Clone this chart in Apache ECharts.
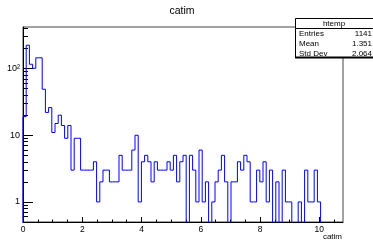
<!DOCTYPE html>
<html>
<head>
<meta charset="utf-8">
<script src="https://cdn.jsdelivr.net/npm/echarts@6/dist/echarts.min.js"></script>
<style>
  html, body { margin: 0; padding: 0; background: #fff; }
  #chart { width: 373px; height: 240px; }
</style>
</head>
<body>
<div id="chart"></div>
<script>
// histogram "catim" - 100 bins from 0 to 10.8, log y scale
const histName = 'htemp'
const xTitle = 'catim'
const xMin = 0
const xMax = 10.8
const counts = [
  19, 224, 116, 101, 145, 145, 49, 22, 26, 11,
  15, 20, 14, 9, 14, 3, 9, 9, 3, 3,
  3, 3, 4, 1, 2, 3, 3, 2, 2, 2,
  5, 3, 3, 3, 6, 10, 1, 4, 5, 4,
  2, 4, 3, 3, 3, 4, 3, 5, 2, 4,
  5, 0, 5, 3, 1, 6, 1, 2, 0, 1,
  2, 3, 5, 2, 0, 2, 2, 4, 3, 5,
  4, 1, 1, 3, 2, 4, 1, 3, 0, 2,
  0, 3, 1, 1, 0, 0, 1, 0, 3, 1,
  1, 3, 1, 0, 0, 0, 0, 0, 0, 0
]
const xTickLabels = [0, 2, 4, 6, 8, 10]
const xMinorTicks = [0.5, 1, 1.5, 2.5, 3, 3.5, 4.5, 5, 5.5, 6.5, 7, 7.5, 8.5, 9, 9.5, 10.5]
const yTickLabels = [1, 10, 100]
const yMinorTicks = [0.6, 0.7, 0.8, 0.9, 2, 3, 4, 5, 6, 7, 8, 9,
  20, 30, 40, 50, 60, 70, 80, 90, 200, 300, 400]
const statLabels = ['Entries', 'Mean', 'Std Dev']
const statValues = ['1141', '1.351', '2.064']

const font = 'Liberation Sans, Arial, Helvetica, sans-serif'
const binWidth = (xMax - xMin) / counts.length

// step outline: one point per bin low edge, plus the final edge
// empty bins are pushed below the axis minimum so the grid clips them
const outline = [[xMin, 0.01]]
counts.forEach((c, i) => outline.push([xMin + i * binWidth, c > 0 ? c : 0.01]))
outline.push([xMax, 0.01])

const myChart = echarts.init(document.getElementById('chart'))

const option = {
  animation: false,
  textStyle: { fontFamily: font },
  title: {
    text: xTitle,
    left: 169.5,
    top: 6,
    padding: 0,
    textStyle: { fontSize: 10.5, fontWeight: 'normal', color: '#000', fontFamily: font }
  },
  grid: {
    left: 23, top: 27, width: 320, height: 195,
    show: true, borderColor: '#444', borderWidth: 1, backgroundColor: '#fff'
  },
  xAxis: [
    {
      type: 'value', min: xMin, max: xMax, position: 'bottom',
      axisLine: { lineStyle: { color: '#000', width: 1 } },
      axisTick: { inside: true, length: 5, customValues: xTickLabels, lineStyle: { color: '#000' } },
      axisLabel: { customValues: xTickLabels, margin: 3, color: '#000', fontSize: 8.5, fontFamily: font },
      splitLine: { show: false }
    },
    {
      type: 'value', min: xMin, max: xMax, position: 'bottom',
      axisLine: { show: false },
      axisTick: { inside: true, length: 2.5, customValues: xMinorTicks, lineStyle: { color: '#000' } },
      axisLabel: { show: false },
      splitLine: { show: false }
    }
  ],
  yAxis: [
    {
      type: 'log', logBase: 10, min: 0.5, max: 420, position: 'left',
      axisLine: { show: true, lineStyle: { color: '#000', width: 1 } },
      axisTick: { show: true, inside: true, length: 10, customValues: yTickLabels, lineStyle: { color: '#000' } },
      axisLabel: {
        customValues: yTickLabels, margin: 3, color: '#000', fontSize: 9, fontFamily: font,
        formatter: v => (Math.round(v) === 100 ? '10²' : String(Math.round(v)))
      },
      splitLine: { show: false }
    },
    {
      type: 'log', logBase: 10, min: 0.5, max: 420, position: 'left',
      axisLine: { show: false },
      axisTick: { show: true, inside: true, length: 5, customValues: yMinorTicks, lineStyle: { color: '#000' } },
      axisLabel: { show: false },
      splitLine: { show: false }
    }
  ],
  series: [
    {
      name: histName,
      type: 'line',
      step: 'end',
      data: outline,
      showSymbol: false,
      clip: true,
      lineStyle: { color: '#0000ff', width: 1 },
      silent: true
    }
  ],
  graphic: [
    {
      type: 'text', x: 342, y: 237, z: 10,
      style: { text: xTitle, fill: '#000', font: '8px ' + font, align: 'right', verticalAlign: 'middle', textAlign: 'right', textVerticalAlign: 'middle' }
    },
    // stats box
    {
      type: 'rect', z: 20,
      shape: { x: 295.5, y: 18.5, width: 80, height: 39 },
      style: { fill: '#fff', stroke: '#000', lineWidth: 1 }
    },
    {
      type: 'line', z: 21,
      shape: { x1: 295, y1: 28.5, x2: 373, y2: 28.5 },
      style: { stroke: '#000', lineWidth: 1 }
    },
    {
      type: 'text', x: 334, y: 23.5, z: 22,
      style: { text: histName, fill: '#000', font: '8px ' + font, align: 'center', verticalAlign: 'middle', textAlign: 'center', textVerticalAlign: 'middle' }
    },
    ...statLabels.map((t, i) => ({
      type: 'text', x: 299, y: 33.5 + i * 10, z: 22,
      style: { text: t, fill: '#000', font: '8px ' + font, align: 'left', verticalAlign: 'middle', textAlign: 'left', textVerticalAlign: 'middle' }
    })),
    ...statValues.map((t, i) => ({
      type: 'text', x: 372, y: 33.5 + i * 10, z: 22,
      style: { text: t, fill: '#000', font: '8px ' + font, align: 'right', verticalAlign: 'middle', textAlign: 'right', textVerticalAlign: 'middle' }
    })),
    {
      type: 'line', z: 23,
      shape: { x1: 295, y1: 57.5, x2: 373, y2: 57.5 },
      style: { stroke: '#000', lineWidth: 2 }
    }
  ]
}

myChart.setOption(option)
</script>
</body>
</html>
